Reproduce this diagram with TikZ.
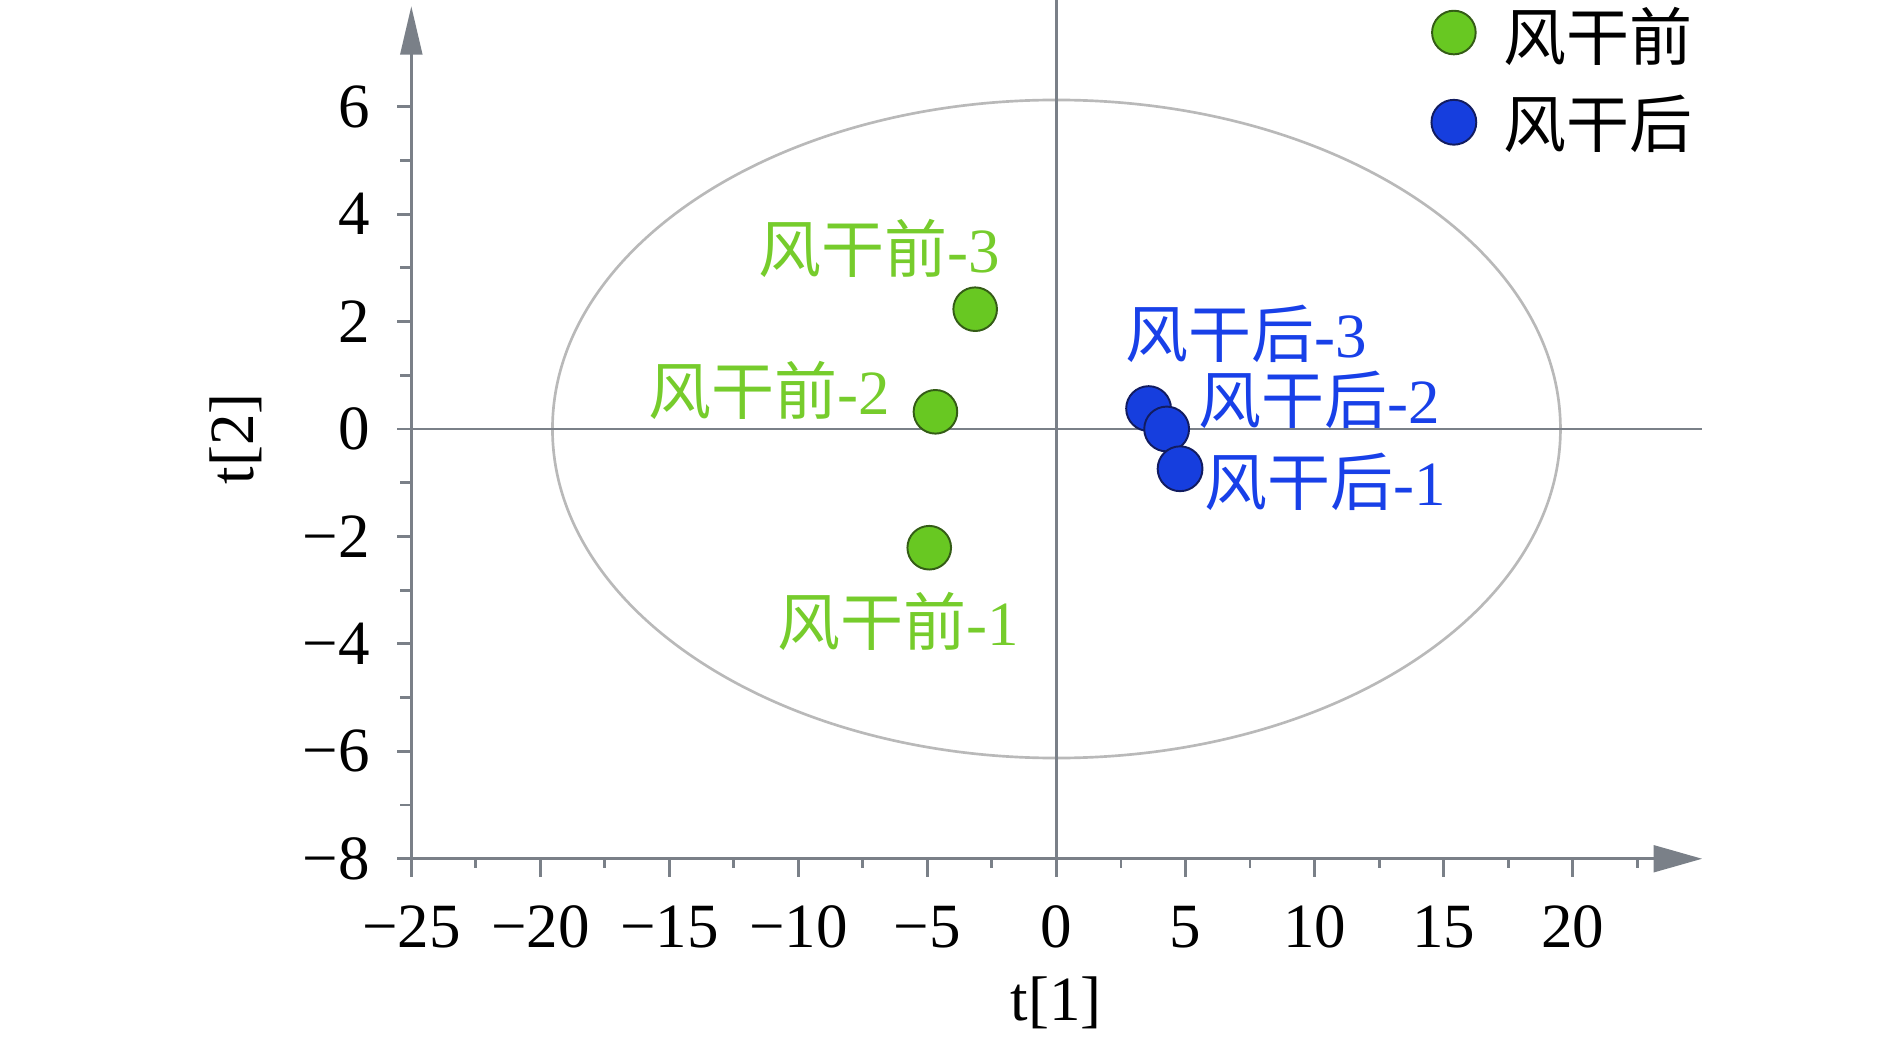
\documentclass[tikz,border=0pt]{standalone}
\usepackage{fontspec}
\setmainfont{Liberation Serif}
\newfontfamily\cjk{Noto Sans CJK SC}
\usetikzlibrary{arrows.meta}
\definecolor{axisgray}{RGB}{122,128,136}
\definecolor{ringgray}{RGB}{185,185,185}
\definecolor{beforegreen}{RGB}{104,200,34}
\definecolor{beforeline}{RGB}{52,92,22}
\definecolor{aftereblue}{RGB}{22,62,222}
\definecolor{afterline}{RGB}{18,28,96}
\definecolor{beforetext}{RGB}{118,204,44}
\definecolor{aftertext}{RGB}{24,64,232}
\begin{document}
\begin{tikzpicture}[x=10.65pt,y=22.17pt,
    axis/.style={draw=axisgray,line width=1.2pt},
    midline/.style={draw=axisgray,line width=1.05pt},
    ticklab/.style={inner sep=0pt,font=\fontsize{26}{26}\selectfont},
    dotg/.style={circle,draw=beforeline,line width=0.8pt,fill=beforegreen,minimum size=18pt,inner sep=0pt},
    dotb/.style={circle,draw=afterline,line width=0.8pt,fill=aftereblue,minimum size=18.5pt,inner sep=0pt},
    labg/.style={inner sep=0pt,text=beforetext,font=\fontsize{26}{26}\selectfont},
    labb/.style={inner sep=0pt,text=aftertext,font=\fontsize{26}{26}\selectfont}]
\useasboundingbox (-40.939,-11.396) rectangle (32.300,7.986);
% score ellipse and zero lines
\draw[ringgray,line width=1.1pt] (0,0) ellipse [x radius=19.53,y radius=6.125];
\draw[midline] (-25.4,0) -- (25.0,0);
\draw[midline] (0,7.99) -- (0,-8);
% axes
\draw[axis,-{Triangle[length=20pt,width=9pt]}] (-25,-8) -- (-25,7.87);
\draw[axis,-{Triangle[length=20pt,width=11pt]}] (-25,-8) -- (25.02,-8);
\foreach \t in {-25,-20,...,20} \draw[axis] (\t,-8) -- ++(0,-7.5pt);
\foreach \t in {-22.5,-17.5,...,22.5} \draw[axis] (\t,-8) -- ++(0,-4pt);
\foreach \t in {-8,-6,...,6} \draw[axis] (-25,\t) -- ++(-6pt,0);
\foreach \t in {-7,-5,...,5} \draw[axis] (-25,\t) -- ++(-4.5pt,0);
% tick labels
\foreach \t in {-25,-20,-15,-10,-5} \node[ticklab] (xl\t) at (\t,-9.27) {−\the\numexpr-\t\relax};
\foreach \t in {0,5,10,15,20} \node[ticklab] (xl\t) at (\t,-9.27) {\t};
\foreach \t in {-8,-6,-4,-2} \node[ticklab,anchor=east] (yl\t) at (-26.6,\t) {−\the\numexpr-\t\relax};
\foreach \t in {0,2,4,6} \node[ticklab,anchor=east] (yl\t) at (-26.6,\t) {\t};
\node[ticklab] (xname) at (0,-10.69) {t[1]};
\node[ticklab,rotate=90] (yname) at (-31.8,-0.18) {t[2]};
% samples
\node[dotg] (g3) at (-3.15,2.23) {};
\node[dotg] (g2) at (-4.69,0.32) {};
\node[dotg] (g1) at (-4.93,-2.21) {};
\node[dotb] (b3) at (3.57,0.38) {};
\node[dotb] (b2) at (4.27,0.0) {};
\node[dotb] (b1) at (4.79,-0.74) {};
\node[labg] (g3lab) at (-6.85,3.36) {{\cjk 风干前}-3};
\node[labg] (g2lab) at (-11.13,0.72) {{\cjk 风干前}-2};
\node[labg] (g1lab) at (-6.15,-3.59) {{\cjk 风干前}-1};
\node[labb] (b3lab) at (7.37,1.78) {{\cjk 风干后}-3};
\node[labb] (b2lab) at (10.19,0.54) {{\cjk 风干后}-2};
\node[labb] (b1lab) at (10.42,-0.99) {{\cjk 风干后}-1};
% legend
\node[dotg] (keyg) at (15.40,7.38) {};
\node[dotb] (keyb) at (15.40,5.71) {};
\node[ticklab,anchor=west] (keyglab) at (17.3,7.31) {\cjk 风干前};
\node[ticklab,anchor=west] (keyblab) at (17.3,5.68) {\cjk 风干后};
\end{tikzpicture}
\end{document}
